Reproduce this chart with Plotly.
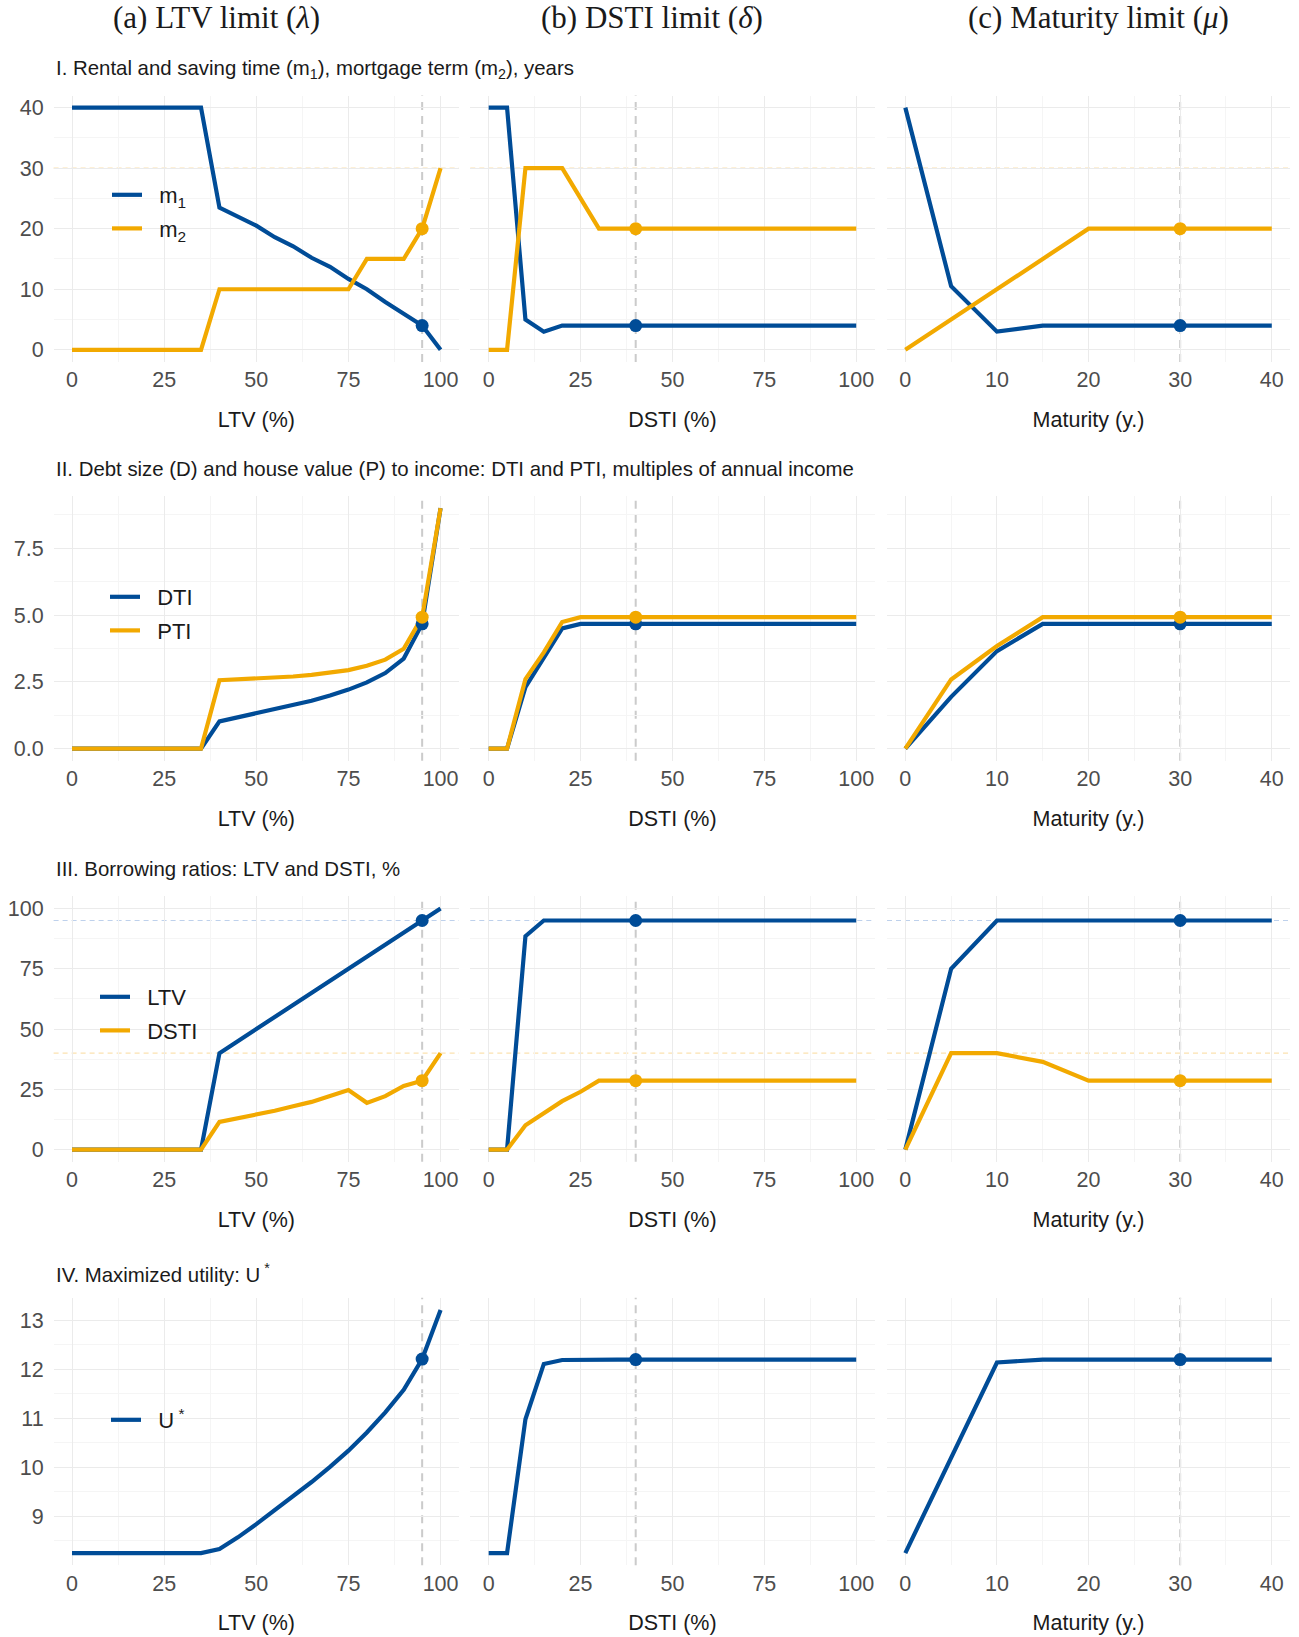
import plotly.graph_objects as go

# ---------------------------------------------------------------- data
# policy grids
ltv_grid = [0, 5, 10, 15, 20, 25, 30, 35, 40, 45, 50, 55, 60, 65, 70, 75, 80, 85, 90, 95, 100]
dsti_grid = [0, 5, 10, 15, 20, 25, 30, 35, 40, 45, 50, 55, 60, 65, 70, 75, 80, 85, 90, 95, 100]
mat_grid = [0, 5, 10, 15, 20, 25, 30, 35, 40]

# baseline calibration (marked with a dot and a dashed vertical line)
ltv_base = 95
dsti_base = 40
mat_base = 30

# I. rental/saving time m1 and mortgage term m2 (years)
m1_ltv = [40, 40, 40, 40, 40, 40, 40, 40, 23.5, 22.0, 20.5, 18.6, 17.1, 15.2, 13.7, 11.7, 10.0, 7.9, 6.0, 4.0, 0.0]
m2_ltv = [0, 0, 0, 0, 0, 0, 0, 0, 10, 10, 10, 10, 10, 10, 10, 10, 15, 15, 15, 20, 30]
m1_dsti = [40, 40, 5, 3, 4, 4, 4, 4, 4, 4, 4, 4, 4, 4, 4, 4, 4, 4, 4, 4, 4]
m2_dsti = [0, 0, 30, 30, 30, 25, 20, 20, 20, 20, 20, 20, 20, 20, 20, 20, 20, 20, 20, 20, 20]
m1_mat = [40, 10.5, 3, 4, 4, 4, 4, 4, 4]
m2_mat = [0, 5, 10, 15, 20, 20, 20, 20, 20]

# II. debt-to-income and price-to-income (multiples of annual income)
dti_ltv = [0, 0, 0, 0, 0, 0, 0, 0, 1.02, 1.17, 1.31, 1.46, 1.62, 1.79, 1.99, 2.21, 2.48, 2.83, 3.37, 4.67, 9.0]
pti_ltv = [0, 0, 0, 0, 0, 0, 0, 0, 2.56, 2.59, 2.62, 2.66, 2.70, 2.76, 2.84, 2.94, 3.10, 3.33, 3.74, 4.92, 9.0]
dti_dsti = [0, 0, 2.30, 3.42, 4.50, 4.67, 4.67, 4.67, 4.67, 4.67, 4.67, 4.67, 4.67, 4.67, 4.67, 4.67, 4.67, 4.67, 4.67, 4.67, 4.67]
pti_dsti = [0, 0, 2.60, 3.60, 4.74, 4.92, 4.92, 4.92, 4.92, 4.92, 4.92, 4.92, 4.92, 4.92, 4.92, 4.92, 4.92, 4.92, 4.92, 4.92, 4.92]
dti_mat = [0, 1.94, 3.65, 4.67, 4.67, 4.67, 4.67, 4.67, 4.67]
pti_mat = [0, 2.59, 3.84, 4.92, 4.92, 4.92, 4.92, 4.92, 4.92]

# III. realised borrowing ratios (%)
ltv_ltv = [0, 0, 0, 0, 0, 0, 0, 0, 40, 45, 50, 55, 60, 65, 70, 75, 80, 85, 90, 95, 100]
dstir_ltv = [0, 0, 0, 0, 0, 0, 0, 0, 11.5, 13.0, 14.5, 16.1, 18.0, 19.8, 22.2, 24.7, 19.4, 22.2, 26.4, 28.6, 40.0]
ltv_dsti = [0, 0, 88.5, 95, 95, 95, 95, 95, 95, 95, 95, 95, 95, 95, 95, 95, 95, 95, 95, 95, 95]
dstir_dsti = [0, 0, 10.1, 15.2, 20.1, 24.0, 28.6, 28.6, 28.6, 28.6, 28.6, 28.6, 28.6, 28.6, 28.6, 28.6, 28.6, 28.6, 28.6, 28.6, 28.6]
ltv_mat = [0, 75, 95, 95, 95, 95, 95, 95, 95]
dstir_mat = [0, 40, 40, 36.4, 28.6, 28.6, 28.6, 28.6, 28.6]

# IV. maximised utility
u_ltv = [8.25, 8.25, 8.25, 8.25, 8.25, 8.25, 8.25, 8.25, 8.33, 8.57, 8.84, 9.12, 9.41, 9.70, 10.01, 10.34, 10.71, 11.12, 11.58, 12.21, 13.21]
u_dsti = [8.25, 8.25, 10.98, 12.11, 12.19, 12.2, 12.2, 12.2, 12.2, 12.2, 12.2, 12.2, 12.2, 12.2, 12.2, 12.2, 12.2, 12.2, 12.2, 12.2, 12.2]
u_mat = [8.25, 10.2, 12.14, 12.2, 12.2, 12.2, 12.2, 12.2, 12.2]

# regulatory caps drawn as faint horizontal reference lines
m2_cap = 30
ltv_cap = 95
dsti_cap = 40

col_titles = ["(a) LTV limit (<i>λ</i>)", "(b) DSTI limit (<i>δ</i>)", "(c) Maturity limit (<i>μ</i>)"]
x_titles = ["LTV (%)", "DSTI (%)", "Maturity (y.)"]
row_titles = [
    "I. Rental and saving time (m<sub>1</sub>), mortgage term (m<sub>2</sub>), years",
    "II. Debt size (D) and house value (P) to income: DTI and PTI, multiples of annual income",
    "III. Borrowing ratios: LTV and DSTI, %",
    "IV. Maximized utility: U<sup> *</sup>",
]

# ---------------------------------------------------------------- styling
BLUE = "#004C97"
ORANGE = "#F2A900"
GRID = "#EBEBEB"
GRID_MINOR = "#F5F5F5"
SANS = "Liberation Sans, Arial, sans-serif"
SERIF = "Liberation Serif, Times New Roman, serif"
W, H = 1299, 1637
PAD = "&nbsp;&nbsp;"  # extra gap between legend key and label

col_px = [(53.6, 459.0), (470.3, 874.6), (887.0, 1290.1)]
row_px = [(95.5, 361.9), (496.1, 760.7), (896.4, 1161.7), (1297.8, 1565.3)]
row_title_px = [69.5, 468.5, 868.5, 1272.5]

grids = [ltv_grid, dsti_grid, mat_grid]
bases = [ltv_base, dsti_base, mat_base]

rows = [
    [("m<sub>1</sub>", BLUE, [m1_ltv, m1_dsti, m1_mat]),
     ("m<sub>2</sub>", ORANGE, [m2_ltv, m2_dsti, m2_mat])],
    [("DTI", BLUE, [dti_ltv, dti_dsti, dti_mat]),
     ("PTI", ORANGE, [pti_ltv, pti_dsti, pti_mat])],
    [("LTV", BLUE, [ltv_ltv, ltv_dsti, ltv_mat]),
     ("DSTI", ORANGE, [dstir_ltv, dstir_dsti, dstir_mat])],
    [("U<sup> *</sup>", BLUE, [u_ltv, u_dsti, u_mat])],
]

y_axes = [
    dict(range=[-2, 42], tickvals=[0, 10, 20, 30, 40], ticktext=["0", "10", "20", "30", "40"],
         minor=[5, 15, 25, 35]),
    dict(range=[-0.45, 9.45], tickvals=[0, 2.5, 5, 7.5], ticktext=["0.0", "2.5", "5.0", "7.5"],
         minor=[1.25, 3.75, 6.25, 8.75]),
    dict(range=[-5, 105], tickvals=[0, 25, 50, 75, 100], ticktext=["0", "25", "50", "75", "100"],
         minor=[12.5, 37.5, 62.5, 87.5]),
    dict(range=[8.0, 13.46], tickvals=[9, 10, 11, 12, 13], ticktext=["9", "10", "11", "12", "13"],
         minor=[8.5, 9.5, 10.5, 11.5, 12.5]),
]
x_axes = [
    dict(range=[-5, 105], tickvals=[0, 25, 50, 75, 100], minor=[12.5, 37.5, 62.5, 87.5]),
    dict(range=[-5, 105], tickvals=[0, 25, 50, 75, 100], minor=[12.5, 37.5, 62.5, 87.5]),
    dict(range=[-2, 42], tickvals=[0, 10, 20, 30, 40], minor=[5, 15, 25, 35]),
]

legend_pos = [(107, 174), (105, 576), (95, 976), (106, 1399)]

fig = go.Figure()
layout = {}
shapes = []
annotations = []

for r in range(4):
    legend_name = "legend" if r == 0 else f"legend{r + 1}"
    for c in range(3):
        k = r * 3 + c + 1
        xa = "x" if k == 1 else f"x{k}"
        ya = "y" if k == 1 else f"y{k}"
        x0, x1 = col_px[c]
        y0, y1 = row_px[r]
        xcfg = x_axes[c]
        ycfg = y_axes[r]
        layout["xaxis" if k == 1 else f"xaxis{k}"] = dict(
            domain=[x0 / W, x1 / W], anchor=ya, range=xcfg["range"],
            tickmode="array", tickvals=xcfg["tickvals"],
            showgrid=True, gridcolor=GRID, gridwidth=1, zeroline=False, showline=False,
            ticks="", ticklabelstandoff=3, tickfont=dict(family=SANS, size=21.5, color="#4D4D4D"),
            minor=dict(tickvals=xcfg["minor"], showgrid=True, gridcolor=GRID_MINOR, gridwidth=1),
            title=dict(text=x_titles[c], font=dict(family=SANS, size=21.5, color="#1A1A1A"), standoff=20),
            fixedrange=True,
        )
        layout["yaxis" if k == 1 else f"yaxis{k}"] = dict(
            domain=[1 - y1 / H, 1 - y0 / H], anchor=xa, range=ycfg["range"],
            tickmode="array", tickvals=ycfg["tickvals"], ticktext=ycfg["ticktext"],
            showticklabels=(c == 0),
            showgrid=True, gridcolor=GRID, gridwidth=1, zeroline=False, showline=False,
            ticks="", ticklabelstandoff=9, tickfont=dict(family=SANS, size=21.5, color="#4D4D4D"),
            minor=dict(tickvals=ycfg["minor"], showgrid=True, gridcolor=GRID_MINOR, gridwidth=1),
            fixedrange=True,
        )

        # dashed vertical line at the baseline calibration
        shapes.append(dict(type="line", xref=xa, yref=f"{ya} domain", x0=bases[c], x1=bases[c],
                           y0=0, y1=1, line=dict(color="#CBCBCB", width=2, dash="8px,6px"), layer="below"))
        # faint caps
        if r == 0:
            shapes.append(dict(type="line", xref=f"{xa} domain", yref=ya, x0=0, x1=1, y0=m2_cap, y1=m2_cap,
                               line=dict(color="#FBE2B0", width=1.2, dash="5px,4px"), layer="below"))
        if r == 2:
            shapes.append(dict(type="line", xref=f"{xa} domain", yref=ya, x0=0, x1=1, y0=ltv_cap, y1=ltv_cap,
                               line=dict(color="#BED1EC", width=1.2, dash="5px,4px"), layer="below"))
            shapes.append(dict(type="line", xref=f"{xa} domain", yref=ya, x0=0, x1=1, y0=dsti_cap, y1=dsti_cap,
                               line=dict(color="#FBE2B0", width=1.2, dash="5px,4px"), layer="below"))

        gx = grids[c]
        bi = gx.index(bases[c])
        for name, color, series in rows[r]:
            ys = series[c]
            fig.add_trace(go.Scatter(
                x=gx, y=ys, mode="lines", name=PAD + name, xaxis=xa, yaxis=ya,
                line=dict(color=color, width=4.2), showlegend=(c == 0), legend=legend_name,
                legendgroup=f"{r}-{name}", hoverinfo="skip",
            ))
        for name, color, series in rows[r]:
            ys = series[c]
            fig.add_trace(go.Scatter(
                x=[gx[bi]], y=[ys[bi]], mode="markers", xaxis=xa, yaxis=ya,
                marker=dict(color=color, size=13), showlegend=False, hoverinfo="skip",
            ))

    lx, ly = legend_pos[r]
    layout[legend_name] = dict(
        x=lx / W, y=1 - ly / H, xanchor="left", yanchor="top",
        bgcolor="rgba(0,0,0,0)", font=dict(family=SANS, size=22, color="#1A1A1A"),
        tracegroupgap=2, itemwidth=30,
    )
    annotations.append(dict(
        text=row_titles[r], xref="paper", yref="paper", x=54.3 / W, y=1 - row_title_px[r] / H,
        xanchor="left", yanchor="middle", showarrow=False,
        font=dict(family=SANS, size=20.4, color="#1A1A1A"),
    ))

for c, cx in enumerate([216.7, 652.0, 1098.0]):
    annotations.append(dict(
        text=col_titles[c], xref="paper", yref="paper", x=cx / W, y=1 - 17.8 / H,
        xanchor="center", yanchor="middle", showarrow=False,
        font=dict(family=SERIF, size=31, color="#1A1A1A"),
    ))

fig.update_layout(
    width=W, height=H, margin=dict(l=0, r=0, t=0, b=0),
    paper_bgcolor="white", plot_bgcolor="white",
    shapes=shapes, annotations=annotations, **layout,
)

fig.write_html("out.html")
